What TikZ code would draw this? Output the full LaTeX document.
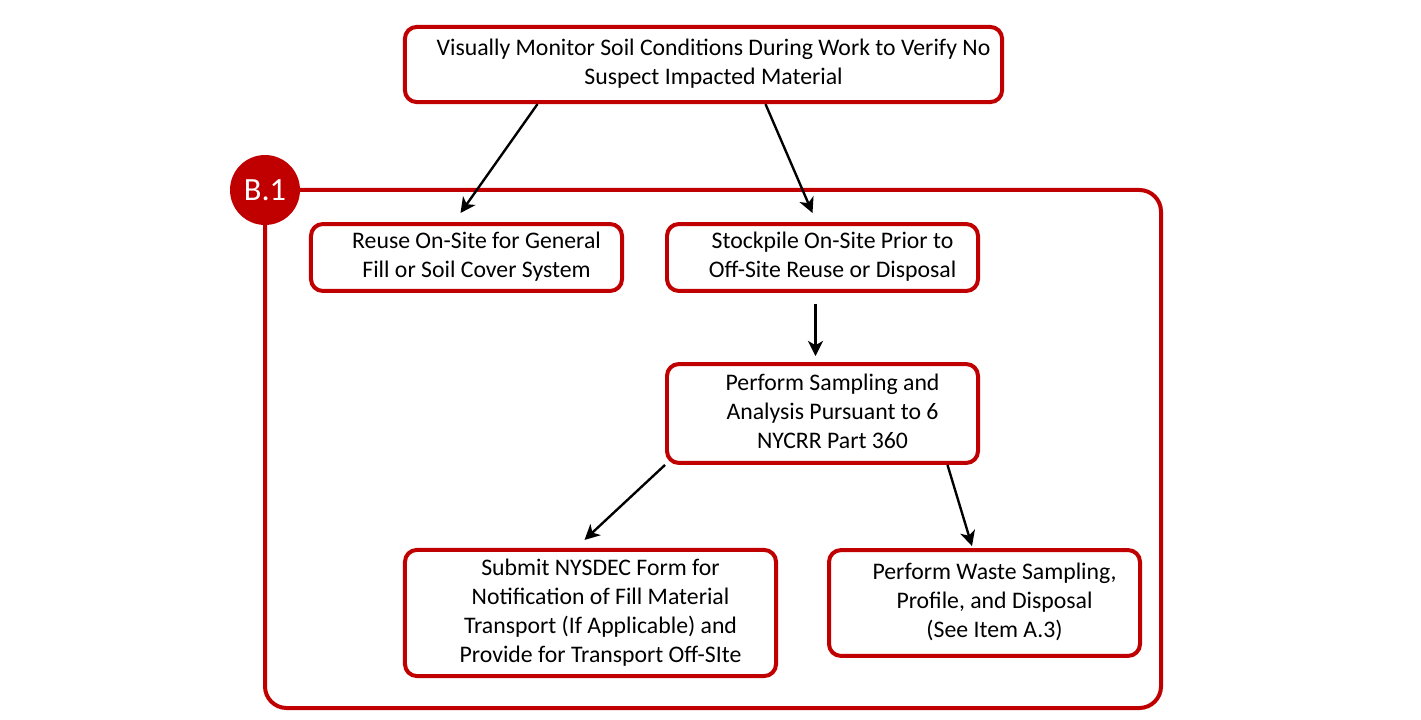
\documentclass[tikz,border=0pt]{standalone}
\usepackage{fontspec}
\setmainfont{Carlito}
\usepackage{tikz}
\usetikzlibrary{arrows.meta}
\usetikzlibrary{calc}
\definecolor{darkred}{RGB}{192,0,0}
\newcommand{\steplines}[1]{\hspace*{9.3pt}\begin{tabular}{@{}c@{}}#1\end{tabular}}
\tikzset{%
  stepbox/.style={draw=darkred, line width=1.85pt, rounded corners=5.5pt, fill=white,
    inner sep=1pt, font=\fontsize{11pt}{13.4pt}\selectfont},
  frame/.style={draw=darkred, line width=1.85pt, rounded corners=10pt},
  tag/.style={circle, fill=darkred, text=white, minimum size=32.4pt, inner sep=0pt,
    font=\fontsize{15pt}{18pt}\selectfont},
  flow/.style={-{Stealth[length=7pt, width=7pt, inset=2pt]}, line width=1.1pt}
}
\begin{document}
\begin{tikzpicture}[x=0.463pt, y=-0.463pt]
        \useasboundingbox (0,0) rectangle (1421,720);

        % group B.1
        \draw [frame] (265,190) rectangle (1161,708);
        \node [tag] (b1) at (265,190) {B.1};

        \node [stepbox, minimum width=276.5pt, minimum height=34.8pt] (mon) at (703.5,64.5)
              {\steplines{Visually Monitor Soil Conditions During Work to Verify No\\Suspect Impacted Material}};
        \node [stepbox, minimum width=144pt, minimum height=31pt]     (reu) at (466.5,257.5)
              {\steplines{Reuse On-Site for General\\Fill or Soil Cover System}};
        \node [stepbox, minimum width=144pt, minimum height=31pt]     (stk) at (822.5,257.5)
              {\steplines{Stockpile On-Site Prior to\\Off-Site Reuse or Disposal}};
        \node [stepbox, minimum width=144pt, minimum height=45.8pt]   (smp) at (822.5,413.5)
              {\steplines{Perform Sampling and\\Analysis Pursuant to 6\\NYCRR Part 360}};
        \node [stepbox, minimum width=171.8pt, minimum height=58.4pt] (sub) at (590.5,613)
              {\raisebox{-2.5pt}{\steplines{Submit NYSDEC Form for\\Notification of Fill Material\\Transport (If Applicable) and\\Provide for Transport Off-SIte}}};
        \node [stepbox, minimum width=144pt, minimum height=49pt]     (wst) at (984.5,603)
              {\steplines{Perform Waste Sampling,\\Profile, and Disposal\\(See Item A.3)}};

        \draw [flow] ($(mon.south)+(-166,0)$) -- ($(reu.north)+(-6,-9)$);
        \draw [flow] ($(mon.south)+(62,0)$)   -- ($(stk.north)+(-10,-9)$);
        \draw [flow] ($(stk.south)+(-7,11)$)  -- ($(smp.north)+(-7,-6)$);
        \draw [flow] (smp.south west)         -- ($(sub.north)+(-6,-8)$);
        \draw [flow] ($(smp.south)+(125,0)$)  -- ($(wst.north)+(-12.5,-2)$);
\end{tikzpicture}
\end{document}
